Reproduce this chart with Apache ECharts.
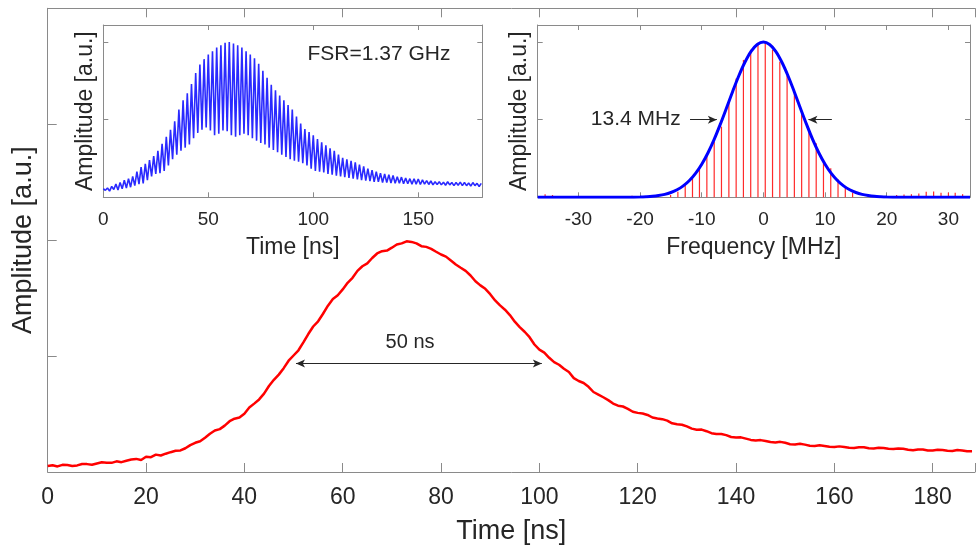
<!DOCTYPE html>
<html><head><meta charset="utf-8">
<script src="https://cdn.jsdelivr.net/npm/echarts@6.0.0/dist/echarts.min.js"></script>
<style>html,body{margin:0;padding:0;background:#fff}#chart{width:978px;height:550px}</style>
</head><body><div id="chart"></div>
<script>
// ---------- DATA ----------
// Main trace: amplitude sampled every 1 ns from 0 ns
const mainTimeStep = 1;
const mainAmp = [0.052,0.058,0.048,0.062,0.06,0.052,0.057,0.069,0.068,0.063,
  0.074,0.084,0.08,0.079,0.092,0.085,0.097,0.108,0.113,0.104,
  0.132,0.128,0.15,0.142,0.158,0.171,0.183,0.186,0.205,0.232,
  0.252,0.265,0.296,0.33,0.358,0.37,0.4,0.438,0.46,0.47,
  0.503,0.556,0.59,0.626,0.676,0.742,0.795,0.84,0.896,0.96,
  1.005,1.05,1.118,1.19,1.255,1.3,1.365,1.435,1.492,1.525,
  1.575,1.632,1.675,1.735,1.775,1.8,1.846,1.885,1.905,1.91,
  1.935,1.962,1.972,1.99,1.985,1.972,1.948,1.942,1.925,1.9,
  1.876,1.858,1.824,1.79,1.762,1.735,1.695,1.645,1.61,1.58,
  1.534,1.48,1.437,1.4,1.354,1.297,1.25,1.21,1.163,1.1,
  1.055,1.03,0.985,0.948,0.925,0.89,0.862,0.81,0.785,0.768,
  0.735,0.69,0.668,0.645,0.62,0.59,0.572,0.565,0.545,0.52,
  0.51,0.505,0.492,0.47,0.462,0.456,0.443,0.42,0.412,0.408,
  0.393,0.374,0.365,0.366,0.352,0.335,0.328,0.327,0.318,0.302,
  0.297,0.299,0.288,0.277,0.272,0.275,0.268,0.258,0.255,0.26,
  0.252,0.24,0.238,0.244,0.236,0.227,0.224,0.23,0.225,0.218,
  0.215,0.221,0.216,0.21,0.208,0.214,0.213,0.205,0.203,0.209,
  0.207,0.2,0.198,0.203,0.2,0.192,0.188,0.195,0.194,0.186,
  0.186,0.192,0.19,0.183,0.182,0.189,0.186,0.179,0.18];
const mainXTicks = [0,20,40,60,80,100,120,140,160,180];
const mainYTicks = [1,2,3];

// Inset 1: oscillating trace, crest values at t = 0,2,...,180 ns and trough values at t = 1,3,...,179 ns
const fsrStep = 2;
const fsrCrest = [0.11,0.12,0.14,0.17,0.19,0.22,0.24,0.27,0.33,0.39,
  0.43,0.48,0.53,0.6,0.69,0.78,0.87,0.98,1.13,1.25,
  1.34,1.46,1.6,1.71,1.78,1.84,1.88,1.93,1.96,1.99,
  2.0,1.98,1.96,1.93,1.88,1.84,1.79,1.72,1.63,1.54,
  1.45,1.38,1.31,1.25,1.19,1.13,1.04,0.95,0.88,0.84,
  0.8,0.75,0.71,0.67,0.63,0.6,0.55,0.51,0.49,0.47,
  0.45,0.42,0.4,0.37,0.35,0.33,0.31,0.3,0.29,0.28,
  0.265,0.26,0.25,0.24,0.24,0.235,0.225,0.215,0.21,0.2,
  0.2,0.195,0.2,0.19,0.19,0.195,0.19,0.185,0.19,0.18,0.18];
const fsrTrough = [0.09,0.08,0.1,0.095,0.11,0.12,0.13,0.15,0.17,0.18,
  0.22,0.27,0.3,0.31,0.34,0.41,0.49,0.55,0.6,0.64,
  0.68,0.76,0.83,0.87,0.9,0.86,0.8,0.82,0.86,0.85,
  0.8,0.78,0.8,0.82,0.8,0.76,0.73,0.7,0.68,0.64,
  0.61,0.58,0.55,0.52,0.49,0.47,0.46,0.44,0.41,0.37,
  0.34,0.33,0.32,0.3,0.29,0.28,0.27,0.26,0.25,0.24,
  0.23,0.22,0.215,0.21,0.2,0.2,0.19,0.19,0.185,0.18,
  0.18,0.175,0.175,0.17,0.17,0.165,0.17,0.165,0.16,0.165,
  0.16,0.155,0.16,0.15,0.155,0.15,0.15,0.145,0.15,0.14];
const inset1XTicks = [0,50,100,150];
const fsrText = 'FSR=1.37 GHz';

// Inset 2: spectrum fit (blue) and comb lines (red)
const fitFreq = [-36.6,-25,-22,-20,-19,-18,-17,-16,-15,-14,-13,-12,-11,-10,-9,-8,-7,-6,-5,-4,-3,-2,-1,0,
  1,2,3,4,5,6,7,8,9,10,11,12,13,14,15,16,17,18,19,20,22,25,33.5];
const fitAmp = [0,0,0.001,0.004,0.0075,0.013,0.023,0.038,0.062,0.097,0.147,0.217,0.309,0.427,0.571,0.743,0.939,1.148,1.361,1.563,1.74,1.881,1.969,2.0,
  1.969,1.881,1.74,1.563,1.361,1.148,0.939,0.743,0.571,0.427,0.309,0.217,0.147,0.097,0.062,0.038,0.023,0.013,0.0075,0.004,0.001,0,0];
const combFreq = [-35.4,-34.2,-21.3,-15.05,-13.87,-12.68,-11.5,-10.37,-9.17,-7.98,-6.8,-5.6,-4.42,-3.24,-2.06,-0.88,0.3,
  1.48,2.66,3.84,5.02,6.2,7.38,8.56,9.74,10.92,12.1,13.28,14.46,
  21.6,22.8,24,25.2,26.4,27.6,28.8,30,31.1,32.3];
const combAmp = [0.04,0.03,0.02,0.03,0.072,0.158,0.265,0.36,0.544,0.716,0.91,1.25,1.53,1.77,1.9,1.99,2.0,
  1.9,1.745,1.57,1.34,1.08,0.845,0.695,0.458,0.373,0.232,0.129,0.06,
  0.03,0.035,0.04,0.05,0.07,0.075,0.06,0.06,0.06,0.04];
const inset2XTicks = [-30,-20,-10,0,10,20,30];
const fwhmText = '13.4 MHz';
const pulseText = '50 ns';

// ---------- CHART ----------
const FONT = '"Liberation Sans", Arial, Helvetica, sans-serif';
const AX = '#8a8a8a';
const TX = '#262626';

function isTick(v, ticks){ return ticks.some(t => Math.abs(t - v) < 1e-6); }

function xAx(grid, pos, min, max, interval, tickLen, labelOpt, nameOpt){
  const a = {
    gridIndex: grid, type: 'value', position: pos, min: min, max: max,
    splitLine: {show:false},
    axisLine: {show:true, onZero:false, lineStyle:{color:AX, width:1}},
    axisTick: {show:true, inside:true, length:tickLen, lineStyle:{color:AX, width:1}},
    axisLabel: labelOpt || {show:false}
  };
  if (interval) a.interval = interval;
  if (nameOpt) Object.assign(a, nameOpt);
  return a;
}

const zigzag = [];
fsrCrest.forEach((v, i) => {
  zigzag.push([i * fsrStep, v]);
  if (i < fsrTrough.length) zigzag.push([i * fsrStep + 1, fsrTrough[i]]);
});

const chart = echarts.init(document.getElementById('chart'), null, {renderer:'canvas'});

const option = {
  animation: false,
  backgroundColor: '#ffffff',
  textStyle: {fontFamily: FONT, color: TX},
  grid: [
    {left: 47.7, top: 8.3, right: 0, bottom: 75},
    {left: 103.3, top: 25, width: 379, height: 172.3, show:true, backgroundColor:'#fff', borderWidth:0},
    {left: 537.7, top: 25, width: 432.3, height: 172.3, show:true, backgroundColor:'#fff', borderWidth:0}
  ],
  xAxis: [
    xAx(0, 'bottom', 0, 188.6, 20, 9,
      {show:true, fontSize:23, color:TX, margin:14, fontFamily:FONT,
       formatter: v => isTick(v, mainXTicks) ? String(v) : ''},
      {name:'Time [ns]', nameLocation:'middle', nameGap:46,
       nameTextStyle:{fontSize:27, color:TX, fontFamily:FONT}}),
    xAx(0, 'top', 0, 188.6, 20, 9, null, null),
    xAx(1, 'bottom', 0, 180.5, 50, 5,
      {show:true, fontSize:19, color:TX, margin:13, fontFamily:FONT,
       formatter: v => isTick(v, inset1XTicks) ? String(v) : ''},
      {name:'Time [ns]', nameLocation:'middle', nameGap:39,
       nameTextStyle:{fontSize:23, color:TX, fontFamily:FONT}}),
    xAx(1, 'top', 0, 180.5, 50, 5, null, null),
    Object.assign(xAx(2, 'bottom', -36.6, 33.5, null, 5,
      {show:true, fontSize:19, color:TX, margin:13, fontFamily:FONT, customValues: inset2XTicks,
       formatter: v => isTick(v, inset2XTicks) ? String(v) : ''},
      {name:'Frequency [MHz]', nameLocation:'middle', nameGap:39,
       nameTextStyle:{fontSize:23, color:TX, fontFamily:FONT}}),
      {axisTick:{show:true, inside:true, length:5, customValues: inset2XTicks, lineStyle:{color:AX, width:1}}}),
    Object.assign(xAx(2, 'top', -36.6, 33.5, null, 5, null, null),
      {axisTick:{show:true, inside:true, length:5, customValues: inset2XTicks, lineStyle:{color:AX, width:1}}})
  ],
  yAxis: [
    {gridIndex:0, type:'value', position:'left', min:0, max:4,
     splitLine:{show:false}, axisLabel:{show:false},
     axisLine:{show:true, onZero:false, lineStyle:{color:AX, width:1}},
     axisTick:{show:true, inside:true, length:9, customValues: mainYTicks, lineStyle:{color:AX, width:1}},
     name:'Amplitude [a.u.]', nameLocation:'middle', nameGap:11,
     nameTextStyle:{fontSize:27, color:TX, fontFamily:FONT}},
    {gridIndex:1, type:'value', position:'left', min:0, max:2.22,
     splitLine:{show:false}, axisLabel:{show:false},
     axisLine:{show:true, onZero:false, lineStyle:{color:AX, width:1}},
     axisTick:{show:true, inside:true, length:5, customValues:[1,2], lineStyle:{color:AX, width:1}},
     name:'Amplitude [a.u.]', nameLocation:'middle', nameGap:6,
     nameTextStyle:{fontSize:23, color:TX, fontFamily:FONT}},
    {gridIndex:1, type:'value', position:'right', min:0, max:2.22,
     splitLine:{show:false}, axisLabel:{show:false},
     axisLine:{show:true, onZero:false, lineStyle:{color:AX, width:1}},
     axisTick:{show:true, inside:true, length:5, customValues:[1,2], lineStyle:{color:AX, width:1}}},
    {gridIndex:2, type:'value', position:'left', min:0, max:2.22,
     splitLine:{show:false}, axisLabel:{show:false},
     axisLine:{show:true, onZero:false, lineStyle:{color:AX, width:1}},
     axisTick:{show:true, inside:true, length:5, customValues:[1,2], lineStyle:{color:AX, width:1}},
     name:'Amplitude [a.u.]', nameLocation:'middle', nameGap:7,
     nameTextStyle:{fontSize:23, color:TX, fontFamily:FONT}},
    {gridIndex:2, type:'value', position:'right', min:0, max:2.22,
     splitLine:{show:false}, axisLabel:{show:false},
     axisLine:{show:true, onZero:false, lineStyle:{color:AX, width:1}},
     axisTick:{show:true, inside:true, length:5, customValues:[1,2], lineStyle:{color:AX, width:1}}}
  ],
  series: [
    {
      type:'line', xAxisIndex:0, yAxisIndex:0, showSymbol:false, silent:true,
      data: mainAmp.map((v, i) => [i * mainTimeStep, v]),
      lineStyle:{color:'#ff0000', width:2.5}, z:3,
      markLine: {
        silent:true, animation:false, symbol:['arrow','arrow'], symbolSize:[6,9],
        label:{show:false},
        lineStyle:{color:TX, width:1, type:'solid'},
        data: [[{coord:[50.5, 0.937]}, {coord:[100.5, 0.937]}]]
      },
      markPoint: {
        silent:true, symbol:'circle', symbolSize:1, itemStyle:{color:'rgba(0,0,0,0)'},
        label:{show:true, position:'inside', color:TX, fontSize:20, fontFamily:FONT, formatter: () => pulseText},
        data: [{coord:[73.7, 1.12]}]
      }
    },
    {
      type:'line', xAxisIndex:2, yAxisIndex:1, showSymbol:false, silent:true,
      data: zigzag, lineStyle:{color:'#2a2aff', width:1.6}, z:3,
      markPoint: {
        silent:true, symbol:'circle', symbolSize:1, itemStyle:{color:'rgba(0,0,0,0)'},
        label:{show:true, position:'inside', color:TX, fontSize:21, fontFamily:FONT, formatter: () => fsrText},
        data: [{coord:[131.3, 1.84]}]
      }
    },
    {
      type:'custom', xAxisIndex:4, yAxisIndex:3, silent:true, z:2,
      data: combFreq.map((f, i) => [f, combAmp[i]]),
      renderItem: (params, api) => {
        const p0 = api.coord([api.value(0), 0]);
        const p1 = api.coord([api.value(0), api.value(1)]);
        return {type:'line', shape:{x1:p0[0], y1:p0[1], x2:p1[0], y2:p1[1]},
                style:{stroke:'#ff2a2a', lineWidth:1.2}};
      }
    },
    {
      type:'line', xAxisIndex:4, yAxisIndex:3, showSymbol:false, silent:true, smooth:0.35,
      data: fitFreq.map((f, i) => [f, fitAmp[i]]),
      lineStyle:{color:'#0000ff', width:3}, z:4,
      markLine: {
        silent:true, animation:false, symbol:['none','arrow'], symbolSize:[6,9],
        label:{show:false},
        lineStyle:{color:TX, width:1, type:'solid'},
        data: [[{coord:[-11.9, 1.0]}, {coord:[-7.55, 1.0]}],
               [{coord:[11.1, 1.0]}, {coord:[7.3, 1.0]}]]
      },
      markPoint: {
        silent:true, symbol:'circle', symbolSize:1, itemStyle:{color:'rgba(0,0,0,0)'},
        label:{show:true, position:'inside', color:TX, fontSize:21, fontFamily:FONT, formatter: () => fwhmText},
        data: [{coord:[-20.7, 1.0]}]
      }
    }
  ]
};
chart.setOption(option);
</script>
</body></html>
